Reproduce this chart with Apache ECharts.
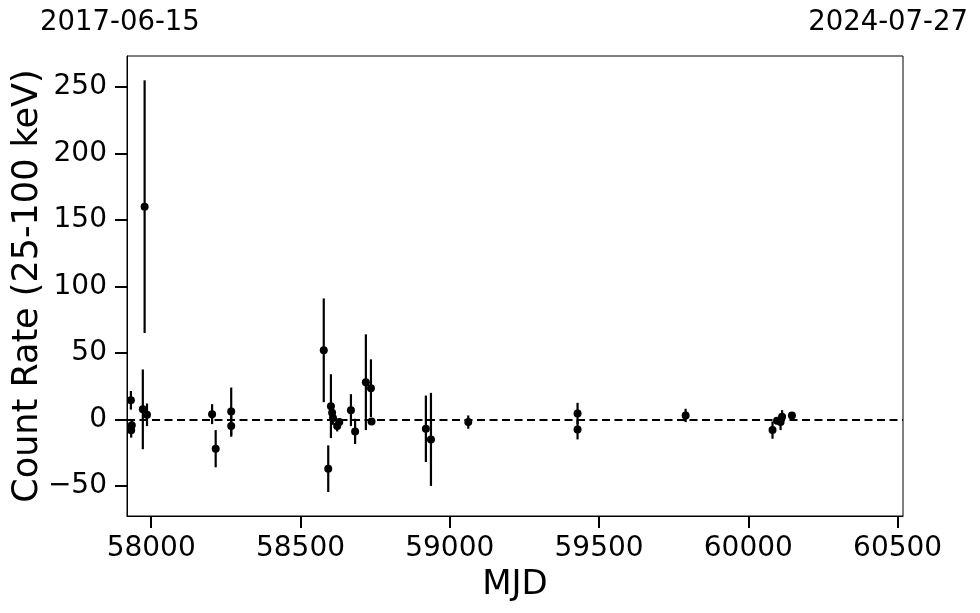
<!DOCTYPE html>
<html>
<head>
<meta charset="utf-8">
<script src="https://cdn.jsdelivr.net/npm/echarts@6/dist/echarts.min.js"></script>
<style>
  html, body { margin: 0; padding: 0; background: #fff; }
  #chart { width: 980px; height: 613px; }
</style>
</head>
<body>
<div id="chart"></div>
<script>
// ---- data ----
const mjd  = [57932, 57935, 57933, 57972, 57978, 57986, 58204, 58216, 58268, 58268,
              58578, 58593, 58602, 58606, 58609, 58623, 58630, 58669, 58683, 58719,
              58736, 58738, 58920, 58937, 59062, 59428, 59428, 59790, 60081, 60096,
              60108, 60113, 60146];
const rate = [14.4, -4.4, -8.2, 7.6, 160, 3.5, 4, -22, 6, -5,
              52, -37, 10, 5, 1, -5, -2, 7, -9, 28,
              23.5, -1.5, -7, -15, -2, 4.5, -7.5, 3, -8, -1,
              -2, 2, 3];
const err  = [7, 4, 5.5, 30, 95, 8.5, 7.5, 14, 18, 8,
              39, 17.5, 24, 6, 5, 4, 3, 12, 9.5, 36,
              21.7, 2, 25, 35, 5, 8, 7.5, 5, 6.5, 2,
              6, 5, 2];
const xTicks = [58000, 58500, 59000, 59500, 60000, 60500];
const yTicks = [-50, 0, 50, 100, 150, 200, 250];
const xRange = [57919, 60518];
const yRange = [-72.6, 273.3];
const dateLabels = ['2017-06-15', '2024-07-27'];

const FONT = 'DejaVu Sans';
const points = mjd.map((m, i) => [m, rate[i]]);
const bars = mjd.map((m, i) => [m, rate[i] - err[i], rate[i] + err[i]]);
const fmt = v => String(v).replace('-', '\u2212');

const chart = echarts.init(document.getElementById('chart'), null, { renderer: 'canvas' });
chart.setOption({
  animation: false,
  backgroundColor: '#fff',
  title: [
    { text: dateLabels[0], left: 35, top: 4,
      textStyle: { fontFamily: FONT, fontSize: 27.5, fontWeight: 'normal', color: '#000' } },
    { text: dateLabels[1], right: 7, top: 4,
      textStyle: { fontFamily: FONT, fontSize: 27.5, fontWeight: 'normal', color: '#000' } }
  ],
  grid: { left: 127, right: 77, top: 56, bottom: 97, show: true,
          containLabel: false, outerBoundsMode: 'none',
          borderColor: '#000', borderWidth: 1, backgroundColor: 'transparent' },
  xAxis: {
    type: 'value', min: xRange[0], max: xRange[1],
    name: 'MJD', nameLocation: 'middle', nameGap: 52, nameMoveOverlap: false,
    nameTextStyle: { fontFamily: FONT, fontSize: 34, color: '#000' },
    axisLine: { show: true, onZero: false, lineStyle: { color: '#000', width: 1 } },
    axisTick: { show: true, length: 12, lineStyle: { color: '#000', width: 2 }, customValues: xTicks },
    axisLabel: { fontFamily: FONT, fontSize: 28, color: '#000', margin: 19, customValues: xTicks, formatter: fmt },
    splitLine: { show: false }
  },
  yAxis: {
    type: 'value', min: yRange[0], max: yRange[1],
    name: 'Count Rate (25-100 keV)', nameLocation: 'middle', nameGap: 82, nameRotate: 90,
    nameMoveOverlap: false,
    nameTextStyle: { fontFamily: FONT, fontSize: 35, color: '#000' },
    axisLine: { show: true, onZero: false, lineStyle: { color: '#000', width: 1 } },
    axisTick: { show: true, length: 12, lineStyle: { color: '#000', width: 2 }, customValues: yTicks },
    axisLabel: { fontFamily: FONT, fontSize: 28, color: '#000', margin: 20, customValues: yTicks, formatter: fmt },
    splitLine: { show: false }
  },
  series: [
    {
      type: 'custom',
      data: bars,
      clip: true,
      renderItem: function (params, api) {
        const p1 = api.coord([api.value(0), api.value(1)]);
        const p2 = api.coord([api.value(0), api.value(2)]);
        return {
          type: 'line',
          shape: { x1: p1[0], y1: p1[1], x2: p2[0], y2: p2[1] },
          style: { stroke: '#000', lineWidth: 2.2 }
        };
      },
      z: 2
    },
    {
      type: 'scatter',
      data: points,
      symbol: 'circle',
      symbolSize: 8,
      itemStyle: { color: '#000', opacity: 1 },
      z: 3,
      markLine: {
        silent: true,
        symbol: ['none', 'none'],
        label: { show: false },
        lineStyle: { color: '#000', type: [8, 4.5], width: 2.2 },
        data: [{ yAxis: 0 }]
      }
    }
  ]
});
</script>
</body>
</html>
